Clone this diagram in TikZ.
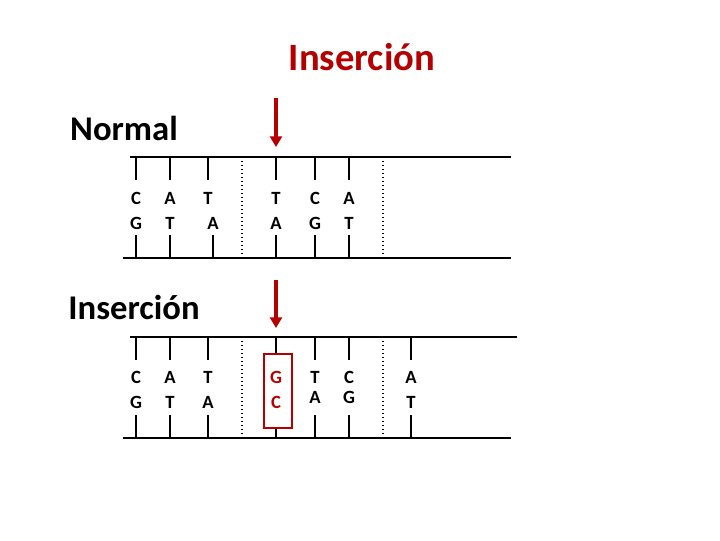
\documentclass[tikz,border=0pt]{standalone}
\usepackage{fontspec}
\setmainfont{Carlito}
\usetikzlibrary{arrows.meta}
\definecolor{dred}{RGB}{180,0,0}
\begin{document}
\begin{tikzpicture}[x=0.75pt,y=-0.75pt,
 strand/.style={line width=2.2pt},
 tick/.style={line width=1pt},
 sep/.style={line width=1pt,dotted},
 base/.style={font=\bfseries\fontsize{14}{14}\selectfont,inner sep=0pt},
 title/.style={font=\bfseries\fontsize{26}{26}\selectfont,inner sep=0pt},
 marrow/.style={dred,line width=2.5pt,-{Triangle[length=8pt,width=9pt]}}]
\useasboundingbox (0,0) rectangle (720,540);
\node[title,dred,font=\bfseries\fontsize{29}{29}\selectfont] (t) at (362,57) {Inserción};
\node[title] (n) at (124,128) {Normal};
\node[title] (i) at (134,307) {Inserción};
% top panel
\coordinate (a1) at (130,157); \coordinate (a2) at (511,157);
\coordinate (b1) at (123,258); \coordinate (b2) at (511,258);
\draw[strand] (a1) -- (a2); \draw[strand] (b1) -- (b2);
\foreach \x/\u/\l/\xl in {136/C/G/136,170/A/T/170,208/T/A/213,276/T/A/276,315/C/G/315,349/A/T/349}{
 \draw[tick] (\x,157) -- (\x,180);
 \draw[tick] (\xl,235) -- (\xl,258);
 \node[base] at (\x,198) {\u};
 \node[base] at (\xl,223) {\l};}
\foreach \x in {242,383} \draw[sep] (\x,157) -- (\x,258);
\coordinate (ar1) at (276,98); \coordinate (ar2) at (276,147);
\draw[marrow] (ar1) -- (ar2);
% bottom panel
\coordinate (c1) at (130,337); \coordinate (c2) at (517,337);
\coordinate (d1) at (123,438); \coordinate (d2) at (511,438);
\draw[strand] (c1) -- (c2); \draw[strand] (d1) -- (d2);
\foreach \x/\u/\l/\yl in {136/C/G/402,170/A/T/402,208/T/A/402,315/T/A/397,349/C/G/397,411/A/T/402}{
 \draw[tick] (\x,337) -- (\x,360);
 \draw[tick] (\x,415) -- (\x,438);
 \node[base] at (\x,377) {\u};
 \node[base] at (\x,\yl) {\l};}
\draw[tick] (276,337) -- (276,354);
\draw[tick] (276,428) -- (276,438);
\node[base,dred] (g) at (276,377) {G};
\node[base,dred] (cc) at (276,402) {C};
\draw[dred,line width=2pt] (264,354) rectangle (292,428);
\foreach \x in {242,383} \draw[sep] (\x,337) -- (\x,438);
\coordinate (br1) at (276,280); \coordinate (br2) at (276,328);
\draw[marrow] (br1) -- (br2);
\end{tikzpicture}
\end{document}
